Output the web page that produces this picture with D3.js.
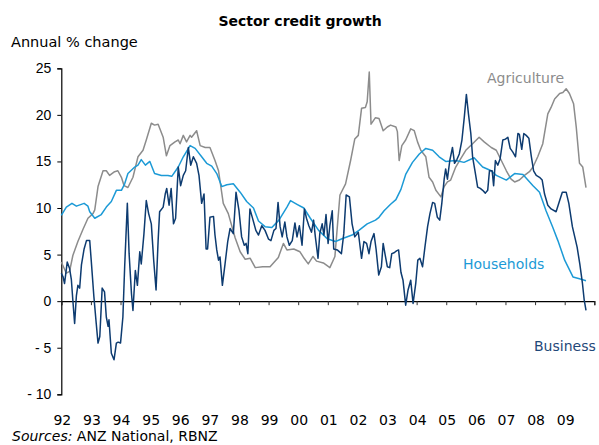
<!DOCTYPE html>
<html lang="en">
<head>
<meta charset="UTF-8">
<script src="https://d3js.org/d3.v7.min.js"></script>
<style>
  body { margin: 0; background: #fff; font-family: "DejaVu Sans", Verdana, sans-serif; }
  .tick text { font-size: 14px; fill: #000; }
</style>
</head>
<body>
<svg id="chart" width="599" height="445"></svg>
<script>
// decimal years and annual % change
const agriYears = [1992.00,1992.17,1992.28,1992.39,1992.56,1992.73,1992.90,1993.07,1993.13,1993.24,1993.41,1993.52,1993.63,1993.80,1993.91,1994.03,1994.12,1994.25,1994.42,1994.59,1994.76,1994.87,1995.04,1995.15,1995.27,1995.44,1995.55,1995.67,1995.84,1995.95,1996.01,1996.12,1996.23,1996.35,1996.40,1996.57,1996.69,1996.86,1997.02,1997.19,1997.31,1997.47,1997.64,1997.87,1998.04,1998.21,1998.38,1998.55,1998.80,1999.05,1999.33,1999.50,1999.62,1999.85,2000.06,2000.20,2000.34,2000.50,2000.62,2000.85,2001.07,2001.24,2001.41,2001.60,2001.77,2001.91,2002.03,2002.14,2002.27,2002.33,2002.40,2002.46,2002.61,2002.73,2002.87,2003.01,2003.12,2003.30,2003.35,2003.41,2003.50,2003.63,2003.80,2003.92,2004.03,2004.14,2004.31,2004.42,2004.54,2004.65,2004.82,2004.93,2005.04,2005.15,2005.32,2005.49,2005.66,2005.89,2006.11,2006.28,2006.52,2006.69,2006.86,2007.03,2007.19,2007.31,2007.47,2007.64,2007.81,2007.93,2008.09,2008.26,2008.43,2008.54,2008.66,2008.83,2008.94,2009.05,2009.16,2009.30,2009.39,2009.50,2009.61,2009.72];
const agriValues = [4.2,3.0,3.2,4.9,6.4,7.7,8.9,9.4,9.8,12.3,14.0,14.0,13.5,13.9,14.0,13.3,12.4,12.2,13.3,15.5,16.2,17.3,19.1,18.9,19.0,17.6,15.6,16.7,17.1,17.3,16.9,17.8,17.1,17.8,17.6,18.3,16.7,16.5,16.5,15.1,14.0,10.5,9.4,6.8,5.3,4.5,4.6,3.6,3.7,3.7,4.7,6.2,5.5,5.6,5.3,4.6,4.0,4.8,4.3,4.1,3.6,4.8,11.4,12.6,15.1,17.4,17.8,20.7,20.8,21.4,24.6,19.0,19.7,19.6,18.3,18.7,18.9,18.7,18.2,15.1,16.7,17.3,18.5,18.3,17.1,16.2,15.5,13.3,12.8,11.9,11.2,12.3,12.8,13.0,14.4,15.3,16.2,16.9,17.6,17.1,16.5,16.2,15.1,14.0,13.1,12.8,13.0,13.5,13.9,14.4,15.5,16.9,20.1,20.8,21.7,22.3,22.4,22.8,22.3,21.2,18.7,14.8,14.4,12.2];

const houseYears = [1992.00,1992.17,1992.36,1992.51,1992.77,1992.90,1992.96,1993.13,1993.35,1993.52,1993.69,1993.86,1994.03,1994.14,1994.25,1994.48,1994.59,1994.70,1994.84,1994.99,1995.15,1995.38,1995.60,1995.73,1995.95,1996.12,1996.35,1996.52,1996.74,1996.91,1997.08,1997.25,1997.42,1997.59,1997.81,1998.04,1998.26,1998.49,1998.66,1998.88,1999.11,1999.35,1999.62,1999.74,1999.96,2000.19,2000.41,2000.69,2000.98,2001.26,2001.48,2001.82,2002.05,2002.33,2002.61,2002.73,2002.90,2003.12,2003.30,2003.47,2003.63,2003.86,2004.09,2004.31,2004.54,2004.76,2004.98,2005.32,2005.60,2005.94,2006.23,2006.52,2006.69,2007.03,2007.31,2007.59,2007.93,2008.15,2008.37,2008.60,2008.77,2009.00,2009.28,2009.50,2009.72];
const houseValues = [9.2,10.1,10.5,10.2,10.5,10.2,9.6,8.9,9.3,10.1,10.7,11.9,11.9,12.6,13.7,14.4,14.6,15.2,14.6,15.0,13.7,13.5,13.5,13.4,14.4,15.5,16.7,16.4,15.5,14.8,14.5,13.7,12.3,12.5,12.6,11.7,10.7,10.0,8.6,8.0,7.9,8.7,10.1,10.8,10.4,10.0,8.9,7.6,6.7,6.4,6.7,7.1,7.6,8.3,8.7,9.0,9.7,10.4,10.9,12.0,13.6,14.9,15.8,16.4,16.2,15.5,15.0,15.1,14.9,15.4,14.4,14.0,13.5,13.0,13.7,13.6,12.4,11.7,9.7,7.9,6.5,4.4,2.6,2.4,2.2];

const busYears = [1992.00,1992.06,1992.11,1992.20,1992.28,1992.34,1992.39,1992.45,1992.51,1992.56,1992.62,1992.68,1992.77,1992.85,1992.96,1993.01,1993.10,1993.18,1993.24,1993.30,1993.38,1993.46,1993.52,1993.58,1993.61,1993.69,1993.78,1993.86,1993.92,1994.00,1994.08,1994.14,1994.23,1994.29,1994.37,1994.42,1994.50,1994.57,1994.65,1994.70,1994.79,1994.87,1994.95,1995.04,1995.12,1995.20,1995.27,1995.32,1995.44,1995.51,1995.56,1995.64,1995.71,1995.79,1995.86,1995.95,1996.03,1996.12,1996.20,1996.29,1996.37,1996.46,1996.57,1996.65,1996.74,1996.82,1996.89,1996.94,1997.02,1997.14,1997.19,1997.25,1997.31,1997.36,1997.44,1997.53,1997.62,1997.70,1997.81,1997.90,1998.00,1998.09,1998.18,1998.24,1998.30,1998.37,1998.45,1998.57,1998.66,1998.77,1998.88,1999.00,1999.08,1999.18,1999.25,1999.32,1999.39,1999.46,1999.55,1999.62,1999.70,1999.80,1999.89,1999.96,2000.04,2000.13,2000.21,2000.28,2000.36,2000.45,2000.52,2000.58,2000.67,2000.73,2000.81,2000.87,2000.94,2001.01,2001.07,2001.15,2001.20,2001.32,2001.46,2001.54,2001.62,2001.73,2001.82,2001.91,2002.03,2002.14,2002.22,2002.31,2002.39,2002.46,2002.56,2002.63,2002.72,2002.81,2002.87,2002.93,2003.01,2003.09,2003.16,2003.24,2003.32,2003.39,2003.47,2003.54,2003.63,2003.71,2003.80,2003.88,2003.97,2004.04,2004.11,2004.20,2004.28,2004.37,2004.45,2004.54,2004.61,2004.70,2004.78,2004.85,2004.93,2004.98,2005.04,2005.12,2005.21,2005.28,2005.36,2005.44,2005.53,2005.61,2005.68,2005.75,2005.83,2005.89,2005.97,2006.06,2006.15,2006.23,2006.32,2006.40,2006.46,2006.55,2006.60,2006.66,2006.74,2006.82,2006.91,2007.00,2007.08,2007.16,2007.25,2007.34,2007.42,2007.47,2007.55,2007.62,2007.70,2007.79,2007.87,2007.95,2008.04,2008.15,2008.24,2008.32,2008.43,2008.54,2008.71,2008.83,2008.92,2009.05,2009.14,2009.26,2009.34,2009.42,2009.51,2009.60,2009.66,2009.72];
const busValues = [3.0,2.6,1.9,4.2,3.5,2.3,0.1,-2.4,0.6,1.7,1.4,3.9,5.6,6.5,6.5,4.4,0.5,-2.4,-4.5,-3.8,1.4,1.0,-1.7,-2.7,-2.0,-5.6,-6.3,-4.5,-4.4,-4.5,-1.7,3.7,10.5,5.1,0.8,-1.0,3.3,1.7,5.3,4.0,7.2,10.8,9.4,8.3,4.4,1.2,6.5,9.6,10.1,11.5,12.1,10.3,12.1,8.3,8.9,14.4,12.4,13.5,14.0,16.5,14.6,15.5,14.8,13.5,10.5,11.5,5.6,5.6,9.0,9.1,7.1,5.5,4.4,4.75,1.7,4.0,6.4,7.8,7.25,11.7,9.75,6.9,6.0,6.2,5.1,9.9,9.0,7.6,7.1,8.1,7.6,6.65,6.5,7.6,7.8,10.6,8.0,6.9,8.5,6.9,6.0,6.5,8.4,6.9,8.1,6.0,9.9,8.9,8.1,7.4,8.7,6.9,4.6,7.25,8.3,7.1,9.3,6.2,8.1,9.7,5.6,5.5,5.1,7.25,11.4,11.2,8.3,6.9,7.4,4.6,6.4,6.2,5.1,6.4,7.25,5.6,2.8,3.7,6.2,5.1,3.7,3.6,5.1,5.2,5.4,5.5,3.1,2.25,-0.43,1.2,2.25,-0.25,1.9,4.4,4.6,3.7,5.8,8.0,9.4,10.6,10.5,9.0,8.7,10.5,13.1,14.2,13.1,15.1,16.5,14.8,15.2,15.8,17.3,19.75,22.2,20.1,18.0,15.5,14.0,12.25,12.1,11.9,11.6,11.9,14.0,14.0,12.4,15.1,14.6,15.3,17.3,17.4,17.6,16.4,16.0,15.5,18.0,17.9,16.3,18.0,17.8,17.5,15.6,14.0,13.5,13.3,13.0,11.5,10.3,9.9,9.6,10.8,11.7,11.7,10.5,8.0,6.9,5.8,4.0,1.9,0.1,-1.0];

const yTicks = [-10, -5, 0, 5, 10, 15, 20, 25];
const yearTicks = d3.range(1992, 2010);
const yearEnds = d3.range(1992, 2011);

const svg = d3.select("#chart");

const x = d3.scaleLinear().domain([1992, 2010]).range([61.3, 594.3]);
const y = d3.scaleLinear().domain([-10, 25]).range([394.3, 68.3]);

// title and axis caption
svg.append("text")
    .attr("x", 300).attr("y", 26)
    .attr("text-anchor", "middle")
    .style("font-size", "14px")
    .style("font-weight", "bold")
    .text("Sector credit growth");

svg.append("text")
    .attr("x", 11).attr("y", 47)
    .style("font-size", "14.5px")
    .text("Annual % change");

// y axis
const yAxis = svg.append("g")
    .attr("transform", `translate(${x(1992)},0)`)
    .call(d3.axisLeft(y).tickValues(yTicks).tickSize(4).tickPadding(6).tickFormat(d => d < 0 ? "- " + Math.abs(d) : d));
yAxis.select(".domain").attr("stroke", "#000").attr("stroke-width", 1.2);

// x axis at zero, ticks only
const xAxis = svg.append("g")
    .attr("transform", `translate(0,${y(0)})`)
    .call(d3.axisBottom(x).tickValues(yearEnds).tickSize(4).tickFormat(""));
xAxis.select(".domain").attr("stroke", "#000").attr("stroke-width", 1.2);
xAxis.selectAll(".tick line").attr("stroke", "#333");

// year labels below the plot
svg.append("g")
    .selectAll("text")
    .data(yearTicks)
    .join("text")
    .attr("x", d => x(d) + 1)
    .attr("y", 425)
    .attr("text-anchor", "middle")
    .style("font-size", "14px")
    .text(d => String(d).slice(2));

const line = d3.line().x(d => x(d[0])).y(d => y(d[1]));

const series = [
    { name: "Agriculture", years: agriYears, values: agriValues, color: "#8c8c8c" },
    { name: "Households", years: houseYears, values: houseValues, color: "#1c9ad6" },
    { name: "Business", years: busYears, values: busValues, color: "#0d3b70" }
];

series.forEach(s => {
    svg.append("path")
        .datum(d3.zip(s.years, s.values))
        .attr("fill", "none")
        .attr("stroke", s.color)
        .attr("stroke-width", 1.5)
        .attr("stroke-linejoin", "round")
        .attr("d", line);
});

// series labels
svg.append("text").attr("x", 487).attr("y", 83)
    .style("font-size", "14px").style("fill", "#8c8c8c").text("Agriculture");
svg.append("text").attr("x", 463).attr("y", 269)
    .style("font-size", "14px").style("fill", "#1c9ad6").text("Households");
svg.append("text").attr("x", 534).attr("y", 351)
    .style("font-size", "14px").style("fill", "#1f4878").text("Business");

// source note
const src = svg.append("text").attr("x", 12).attr("y", 441).style("font-size", "14px");
src.append("tspan").style("font-style", "italic").text("Sources:");
src.append("tspan").text("  ANZ National, RBNZ");
</script>
</body>
</html>
